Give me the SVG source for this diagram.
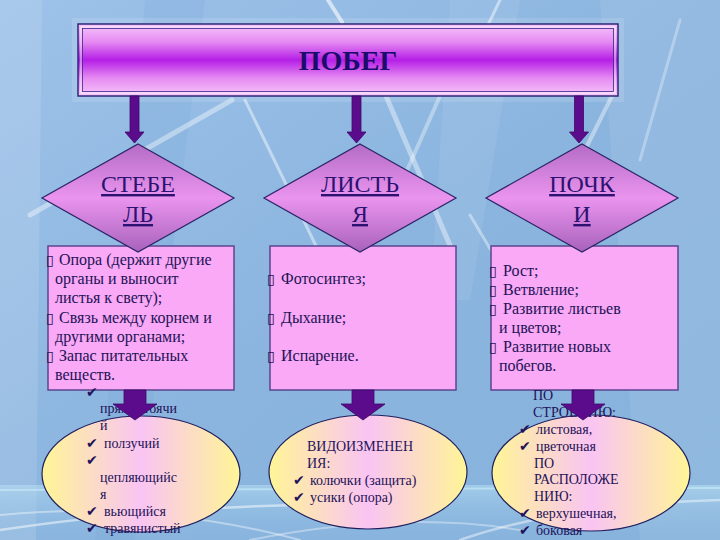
<svg xmlns="http://www.w3.org/2000/svg" width="720" height="540" viewBox="0 0 720 540">
<defs>
<linearGradient id="bg" x1="0" y1="0" x2="1" y2="1">
<stop offset="0" stop-color="#9ec2e9"/>
<stop offset="0.5" stop-color="#8bb5df"/>
<stop offset="1" stop-color="#86b2dc"/>
</linearGradient>
<linearGradient id="titleG" x1="0" y1="0" x2="0" y2="1">
<stop offset="0" stop-color="#f7c6fa"/>
<stop offset="0.25" stop-color="#e68af2"/>
<stop offset="0.5" stop-color="#b51fe6"/>
<stop offset="0.75" stop-color="#e68af2"/>
<stop offset="1" stop-color="#f7c6fa"/>
</linearGradient>
<linearGradient id="diaG" x1="0" y1="0" x2="0" y2="1">
<stop offset="0" stop-color="#b46cc6"/>
<stop offset="0.5" stop-color="#ea94ee"/>
<stop offset="1" stop-color="#a862bc"/>
</linearGradient>
<linearGradient id="ellG" x1="0" y1="0" x2="1" y2="0">
<stop offset="0" stop-color="#fff596"/>
<stop offset="0.5" stop-color="#f9c4f3"/>
<stop offset="1" stop-color="#fff596"/>
</linearGradient>
<linearGradient id="floor" x1="0" y1="0" x2="0" y2="1">
<stop offset="0" stop-color="#b8e0f4" stop-opacity="0.55"/>
<stop offset="1" stop-color="#8cbce2" stop-opacity="0"/>
</linearGradient>
</defs>
<style>
.box{fill:#f9a9f5;stroke:#5b4690;stroke-width:1.5}
.dia{fill:url(#diaG);stroke:#2a2466;stroke-width:1.2}
.ell{fill:url(#ellG);stroke:#1f1f5e;stroke-width:1.2}
.t{font-family:'Liberation Serif','DejaVu Serif',serif;font-size:16px;fill:#231257}
.s{font-family:'Liberation Serif','DejaVu Serif',serif;font-size:14px;fill:#1f1259}
.ck{font-family:'DejaVu Sans',sans-serif;font-size:14px;font-weight:bold;fill:#1f1259}
.bl{font-family:'DejaVu Sans',sans-serif;font-size:14px;fill:#231257}
.dt{font-family:'Liberation Serif','DejaVu Serif',serif;font-size:24px;fill:#2c1272;text-decoration:underline;text-anchor:middle}
.ttl{font-family:'Liberation Serif','DejaVu Serif',serif;font-size:28px;font-weight:bold;fill:#1a0c6a;text-anchor:middle}
.ar{fill:#5b0c8c;stroke:#3e0866;stroke-width:0.8}
.streak{stroke:#ffffff;fill:none;stroke-linecap:round}
</style>
<!-- background -->
<rect x="0" y="0" width="720" height="540" fill="url(#bg)"/>
<polygon points="0,0 42,0 36,540 0,540" fill="#ffffff" opacity="0.12"/>
<polygon points="145,0 205,0 135,540 95,540" fill="#6e9fd2" opacity="0.18"/>
<polygon points="600,0 720,0 720,540 640,540" fill="#ffffff" opacity="0.08"/>
<polygon points="450,0 520,0 470,300 430,300" fill="#ffffff" opacity="0.07"/>
<rect x="0" y="485" width="720" height="55" fill="url(#floor)"/>
<line class="streak" x1="328" y1="0" x2="342" y2="22" stroke-width="4" opacity="0.6"/>
<line class="streak" x1="500" y1="0" x2="488" y2="25" stroke-width="3" opacity="0.45"/>
<line class="streak" x1="232" y1="100" x2="30" y2="215" stroke-width="5" opacity="0.4"/>
<line class="streak" x1="245" y1="100" x2="318" y2="250" stroke-width="3" opacity="0.45"/>
<line class="streak" x1="386" y1="96" x2="452" y2="250" stroke-width="5" opacity="0.4"/>
<line class="streak" x1="440" y1="96" x2="405" y2="175" stroke-width="4" opacity="0.35"/>
<line class="streak" x1="615" y1="90" x2="560" y2="200" stroke-width="4" opacity="0.4"/>
<line class="streak" x1="470" y1="215" x2="492" y2="252" stroke-width="3" opacity="0.4"/>
<line class="streak" x1="680" y1="20" x2="640" y2="160" stroke-width="3" opacity="0.3"/>
<line x1="0" y1="490" x2="720" y2="488" stroke="#c8ecf8" stroke-width="2" opacity="0.6"/>
<path class="streak" d="M0,530 Q200,500 420,505" stroke-width="2.5" opacity="0.5"/>
<path class="streak" d="M0,515 Q150,500 300,540" stroke-width="2" opacity="0.4"/>
<path class="streak" d="M460,540 Q560,505 720,500" stroke-width="2.5" opacity="0.45"/>
<path class="streak" d="M250,540 Q400,510 520,530" stroke-width="2" opacity="0.35"/>

<!-- title -->
<g id="node-pobeg">
<rect x="72" y="18" width="552" height="84" fill="#ffffff" opacity="0.12"/>
<rect x="78" y="24" width="540" height="72" fill="url(#titleG)" stroke="#2e2a78" stroke-width="1.5"/>
<rect x="81" y="27" width="534" height="66" fill="none" stroke="#ffffff" stroke-width="1" opacity="0.8"/>
<rect x="82.5" y="28.5" width="531" height="63" fill="none" stroke="#3a2a88" stroke-width="0.8"/>
<text class="ttl" x="348" y="70">ПОБЕГ</text>
</g>

<!-- info boxes -->
<g id="node-box-stebel">
<rect class="box" x="48" y="246" width="186" height="144"/>
<text class="bl" x="46" y="265">▯</text><text class="t" x="59" y="265">Опора (держит другие</text>
<text class="t" x="55" y="284">органы и выносит</text>
<text class="t" x="55" y="303">листья к свету);</text>
<text class="bl" x="46" y="323">▯</text><text class="t" x="59" y="323">Связь между корнем и</text>
<text class="t" x="55" y="342">другими органами;</text>
<text class="bl" x="46" y="361">▯</text><text class="t" x="59" y="361">Запас питательных</text>
<text class="t" x="55" y="380">веществ.</text>
</g>
<g id="node-box-list">
<rect class="box" x="270" y="246" width="186" height="144"/>
<text class="bl" x="267" y="284">▯</text><text class="t" x="281" y="284">Фотосинтез;</text>
<text class="bl" x="267" y="323">▯</text><text class="t" x="281" y="323">Дыхание;</text>
<text class="bl" x="267" y="361">▯</text><text class="t" x="281" y="361">Испарение.</text>
</g>
<g id="node-box-pochki">
<rect class="box" x="491" y="246" width="187" height="144"/>
<text class="bl" x="489" y="276">▯</text><text class="t" x="503" y="276">Рост;</text>
<text class="bl" x="489" y="295">▯</text><text class="t" x="503" y="295">Ветвление;</text>
<text class="bl" x="489" y="314">▯</text><text class="t" x="503" y="314">Развитие листьев</text>
<text class="t" x="499" y="333">и цветов;</text>
<text class="bl" x="489" y="352">▯</text><text class="t" x="503" y="352">Развитие новых</text>
<text class="t" x="499" y="371">побегов.</text>
</g>

<!-- diamonds -->
<g id="node-stebel">
<polygon class="dia" points="138,144 234,198 138,252 42,198"/>
<text class="dt" x="138" y="192">СТЕБЕ</text>
<text class="dt" x="138" y="222">ЛЬ</text>
</g>
<g id="node-listya">
<polygon class="dia" points="360,144 456,198 360,252 264,198"/>
<text class="dt" x="360" y="192">ЛИСТЬ</text>
<text class="dt" x="360" y="222">Я</text>
</g>
<g id="node-pochki">
<polygon class="dia" points="582,144 678,198 582,252 486,198"/>
<text class="dt" x="582" y="192">ПОЧК</text>
<text class="dt" x="582" y="222">И</text>
</g>

<!-- ellipses -->
<g id="node-ell-stebel">
<ellipse class="ell" cx="141" cy="474" rx="99" ry="58"/>
<text class="ck" x="86" y="397">✔</text>
<text class="s" x="100" y="413">прямостоячи</text>
<text class="s" x="100" y="430">й</text>
<text class="ck" x="86" y="448">✔</text><text class="s" x="104" y="448">ползучий</text>
<text class="ck" x="86" y="465">✔</text>
<text class="s" x="100" y="482">цепляющийс</text>
<text class="s" x="100" y="499">я</text>
<text class="ck" x="86" y="516">✔</text><text class="s" x="104" y="516">вьющийся</text>
<text class="ck" x="86" y="533">✔</text><text class="s" x="104" y="533">травянистый</text>
</g>
<g id="node-ell-list">
<ellipse class="ell" cx="368" cy="472" rx="99" ry="57"/>
<text class="s" x="307" y="451">ВИДОИЗМЕНЕН</text>
<text class="s" x="307" y="468">ИЯ:</text>
<text class="ck" x="293" y="485">✔</text><text class="s" x="310" y="485">колючки (защита)</text>
<text class="ck" x="293" y="502">✔</text><text class="s" x="310" y="502">усики (опора)</text>
</g>
<g id="node-ell-pochki">
<ellipse class="ell" cx="591" cy="473" rx="99" ry="58"/>
<text class="s" x="533" y="400">ПО</text>
<text class="s" x="533" y="417">СТРОЕНИЮ:</text>
<text class="ck" x="519" y="434">✔</text><text class="s" x="536" y="434">листовая,</text>
<text class="ck" x="519" y="451">✔</text><text class="s" x="536" y="451">цветочная</text>
<text class="s" x="534" y="468">ПО</text>
<text class="s" x="534" y="484">РАСПОЛОЖЕ</text>
<text class="s" x="534" y="501">НИЮ:</text>
<text class="ck" x="519" y="518">✔</text><text class="s" x="536" y="518">верхушечная,</text>
<text class="ck" x="519" y="535">✔</text><text class="s" x="536" y="535">боковая</text>
</g>

<!-- connectors -->
<g id="connectors">
<polygon class="ar" points="130,96 139,96 139,132 144,132 134.5,143 125,132 130,132"/>
<polygon class="ar" points="352,96 361,96 361,132 366,132 356.5,143 347,132 352,132"/>
<polygon class="ar" points="574.5,96 583.5,96 583.5,132 588.5,132 579,143 569.5,132 574.5,132"/>
<polygon class="ar" points="124,390 146,390 146,404 157,404 135,420 113,404 124,404"/>
<polygon class="ar" points="352,390 374,390 374,404 385,404 363,420 341,404 352,404"/>
<polygon class="ar" points="572,390 594,390 594,404 605,404 583,420 561,404 572,404"/>
</g>
</svg>
